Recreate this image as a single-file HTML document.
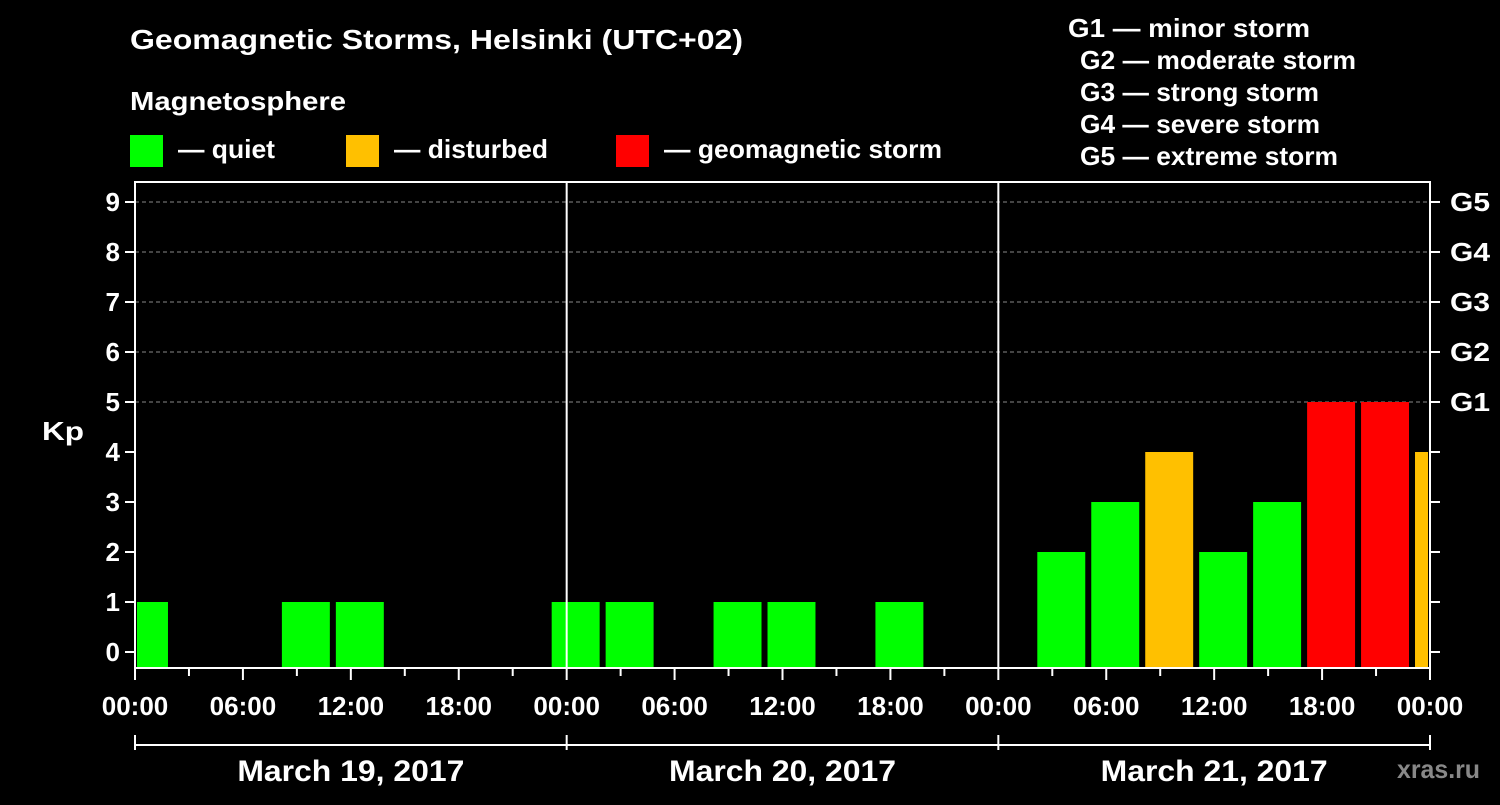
<!DOCTYPE html>
<html><head><meta charset="utf-8"><style>
body{margin:0;background:#000;width:1500px;height:800px;overflow:hidden}
svg text{font-family:"Liberation Sans",Arial,sans-serif;font-weight:bold;fill:#fff}
</style></head><body>
<svg id="c" width="1500" height="800" xmlns="http://www.w3.org/2000/svg">
<text x="130" y="49" font-size="28" textLength="613" lengthAdjust="spacingAndGlyphs">Geomagnetic Storms, Helsinki (UTC+02)</text>
<text x="130" y="110" font-size="26" textLength="216" lengthAdjust="spacingAndGlyphs">Magnetosphere</text>
<rect x="130" y="135" width="33" height="32" fill="#00ff00"/>
<text x="178" y="158" font-size="26" textLength="97" lengthAdjust="spacingAndGlyphs">— quiet</text>
<rect x="346" y="135" width="33" height="32" fill="#ffc000"/>
<text x="394" y="158" font-size="26" textLength="154" lengthAdjust="spacingAndGlyphs">— disturbed</text>
<rect x="616" y="135" width="33" height="32" fill="#ff0000"/>
<text x="664" y="158" font-size="26" textLength="278" lengthAdjust="spacingAndGlyphs">— geomagnetic storm</text>
<g font-size="26">
<text x="1068" y="37" textLength="242" lengthAdjust="spacingAndGlyphs">G1 — minor storm</text>
<text x="1080" y="69" textLength="276" lengthAdjust="spacingAndGlyphs">G2 — moderate storm</text>
<text x="1080" y="101" textLength="239" lengthAdjust="spacingAndGlyphs">G3 — strong storm</text>
<text x="1080" y="133" textLength="240" lengthAdjust="spacingAndGlyphs">G4 — severe storm</text>
<text x="1080" y="165" textLength="258" lengthAdjust="spacingAndGlyphs">G5 — extreme storm</text>
</g>
<text x="42" y="440" font-size="26" textLength="42" lengthAdjust="spacingAndGlyphs">Kp</text>
<text x="1397" y="778" font-size="26" textLength="83" lengthAdjust="spacingAndGlyphs" style="fill:#888">xras.ru</text>
<g id="g"></g>
</svg>
<script>
const kpValues=[1,0,0,1,1,0,0,0,1,1,0,1,1,0,1,0,0,2,3,4,2,3,5,5,4];
const yTicks=[0,1,2,3,4,5,6,7,8,9];
const gLabels=["G1","G2","G3","G4","G5"];
const timeLabels=["00:00","06:00","12:00","18:00"];
const dates=["March 19, 2017","March 20, 2017","March 21, 2017"];
const X0=135,X1=1430,YT=182,YB=668,hourW=(X1-X0)/72;
const y=v=>652-50*v;
const x=h=>X0+h*hourW;
const g=document.getElementById('g');
const NS='http://www.w3.org/2000/svg';
function mk(t,a){const e=document.createElementNS(NS,t);for(const k in a)e.setAttribute(k,a[k]);g.appendChild(e);return e;}
for(let v=5;v<=9;v++){const l=mk('line',{x1:X0,x2:X1,y1:y(v),y2:y(v),stroke:'#888','stroke-dasharray':'4,3','stroke-width':1});

}
kpValues.forEach((v,i)=>{if(v<=0)return;
let a=x(-1+3*i)+3,b=x(2+3*i)-3;a=Math.max(a,X0+2);b=Math.min(b,X1-2);
const col=v>=5?'#ff0000':(v>=4?'#ffc000':'#00ff00');
const r=mk('rect',{x:a,y:y(v),width:b-a,height:YB-y(v),fill:col});

});
[1,2].forEach(d=>{const l=mk('line',{x1:x(24*d),x2:x(24*d),y1:YT,y2:YB,stroke:'#fff','stroke-width':2});

});
const fr=mk('rect',{x:X0,y:YT,width:X1-X0,height:YB-YT,fill:'none',stroke:'#fff','stroke-width':2});


yTicks.forEach(v=>{mk('line',{x1:X0-10,x2:X0,y1:y(v),y2:y(v),stroke:'#fff','stroke-width':2});
mk('line',{x1:X1,x2:X1+10,y1:y(v),y2:y(v),stroke:'#fff','stroke-width':2});
const t=mk('text',{x:X0-15,y:y(v)+9,'font-size':26,'text-anchor':'end'});t.textContent=v;

});
gLabels.forEach((s,i)=>{const t=mk('text',{x:X1+20,y:y(5+i)+9,'font-size':26,textLength:40,lengthAdjust:'spacingAndGlyphs'});t.textContent=s;

});
for(let h=0;h<=72;h+=3){mk('line',{x1:x(h),x2:x(h),y1:YB,y2:YB+(h%6==0?12:8),stroke:'#fff','stroke-width':2});
if(h%6==0){const t=mk('text',{x:x(h),y:715,'font-size':26,'text-anchor':'middle'});t.textContent=timeLabels[(h/6)%4];

}}
mk('line',{x1:X0,x2:X1,y1:745,y2:745,stroke:'#fff','stroke-width':2});
for(let d=0;d<=3;d++)mk('line',{x1:x(24*d),x2:x(24*d),y1:735,y2:750,stroke:'#fff','stroke-width':2});
dates.forEach((s,i)=>{const t=mk('text',{x:x(24*i+12),y:781,'font-size':30,'text-anchor':'middle',textLength:227,lengthAdjust:'spacingAndGlyphs'});t.textContent=s;

});
</script>
</body></html>
